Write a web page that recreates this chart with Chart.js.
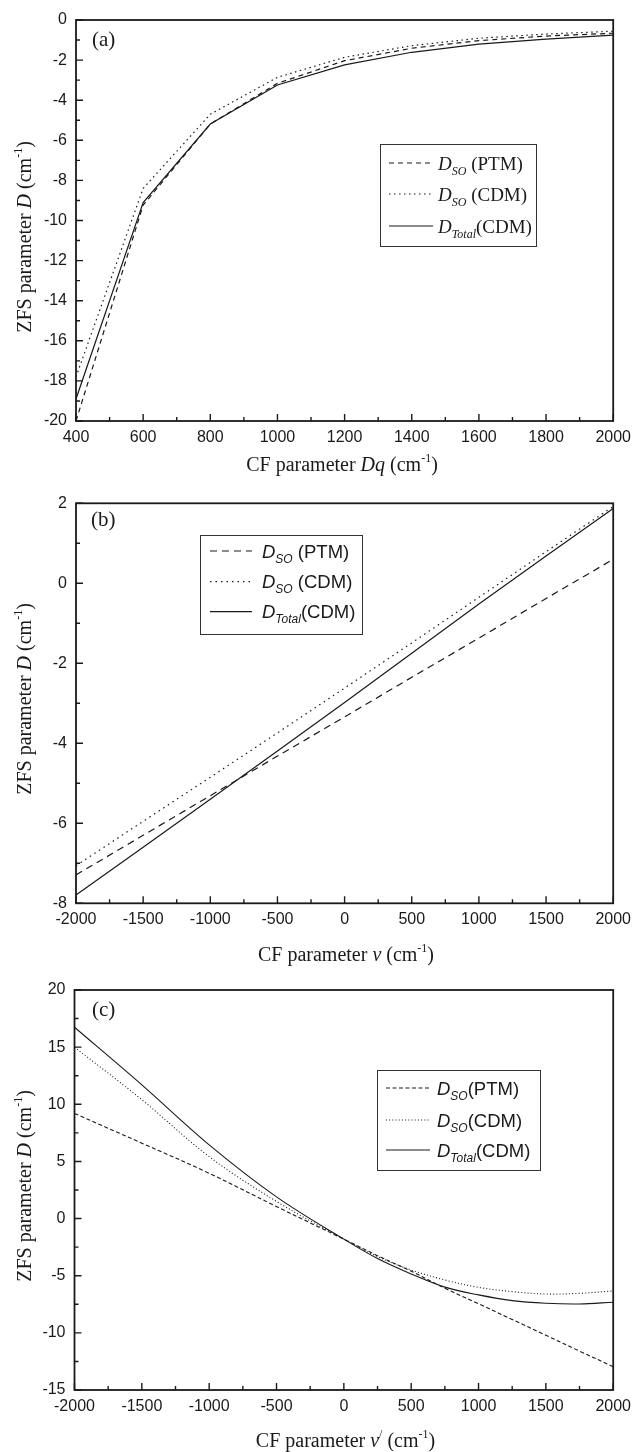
<!DOCTYPE html>
<html>
<head>
<meta charset="utf-8">
<script src="https://cdn.jsdelivr.net/npm/chart.js@4.4.0/dist/chart.umd.min.js"></script>
<style>
  html, body { margin: 0; padding: 0; background: #fff; }
  body { width: 638px; height: 1452px; position: relative; overflow: hidden; }
  .panel { position: absolute; left: 0; width: 638px; }
</style>
</head>
<body>
<div class="panel" style="top:0;height:480px"><canvas id="chartA" width="638" height="480"></canvas></div>
<div class="panel" style="top:480px;height:490px"><canvas id="chartB" width="638" height="490"></canvas></div>
<div class="panel" style="top:970px;height:482px"><canvas id="chartC" width="638" height="482"></canvas></div>
<script>
// (a) ZFS parameter D vs CF parameter Dq
const dqValues = [400, 600, 800, 1000, 1200, 1400, 1600, 1800, 2000];
const dsoPtmA = [-20.0, -9.23, -5.19, -3.16, -2.03, -1.41, -1.03, -0.80, -0.66];
const dsoCdmA = [-17.8, -8.40, -4.70, -2.86, -1.86, -1.28, -0.91, -0.70, -0.56];
const dTotalA = [-18.9, -9.11, -5.19, -3.24, -2.24, -1.61, -1.20, -0.95, -0.75];
const xTicksA = [400, 600, 800, 1000, 1200, 1400, 1600, 1800, 2000];
const yTicksA = [-20, -18, -16, -14, -12, -10, -8, -6, -4, -2, 0];

// (b) ZFS parameter D vs CF parameter v
const vValues = [-2000, -1500, -1000, -500, 0, 500, 1000, 1500, 2000];
const dsoPtmB = [-7.29, -6.30, -5.31, -4.32, -3.34, -2.35, -1.37, -0.38, 0.60];
const dsoCdmB = [-7.06, -5.95, -4.85, -3.74, -2.62, -1.49, -0.35, 0.79, 1.92];
const dTotalB = [-7.79, -6.60, -5.40, -4.19, -2.98, -1.75, -0.52, 0.68, 1.87];
const xTicksB = [-2000, -1500, -1000, -500, 0, 500, 1000, 1500, 2000];
const yTicksB = [-8, -6, -4, -2, 0, 2];

// (c) ZFS parameter D vs CF parameter v'
const vpValues = [-2000, -1500, -1000, -500, 0, 250, 500, 750, 1000, 1250, 1500, 1750, 2000];
const dsoPtmC = [9.2, 6.6, 3.96, 1.05, -1.8, -3.25, -4.6, -6.1, -7.45, -8.83, -10.21, -11.6, -12.96];
const dsoCdmC = [15.0, 10.4, 5.42, 1.5, -1.8, -3.33, -4.5, -5.37, -6.02, -6.39, -6.6, -6.54, -6.33];
const dTotalC = [16.74, 11.7, 6.45, 1.9, -1.8, -3.5, -4.85, -6.0, -6.68, -7.18, -7.41, -7.47, -7.32];
const xTicksC = [-2000, -1500, -1000, -500, 0, 500, 1000, 1500, 2000];
const yTicksC = [-15, -10, -5, 0, 5, 10, 15, 20];

const SERIF = "'Liberation Serif', 'Times New Roman', serif";
const SANS = "'Liberation Sans', Arial, sans-serif";
const INK = '#1a1a1a';

// mixed-style text: parts = [{t, font, dy}]
function richText(ctx, parts, x, y, align) {
  let w = 0;
  parts.forEach(p => { ctx.font = p.font; p.w = ctx.measureText(p.t).width; w += p.w; });
  let cx = align === 'center' ? x - w / 2 : x;
  parts.forEach(p => { ctx.font = p.font; ctx.fillText(p.t, cx, y + (p.dy || 0)); cx += p.w; });
}

function axisTitle(name, italicPart, prime) {
  const f = '20px ' + SERIF, fi = 'italic 20px ' + SERIF, fs = '12px ' + SERIF;
  const parts = [{ t: name, font: f }, { t: italicPart, font: fi }];
  if (prime) parts.push({ t: '/', font: fs, dy: -9 });
  parts.push({ t: ' (cm', font: f }, { t: '-1', font: fs, dy: -9 }, { t: ')', font: f });
  return parts;
}

function legendRow(family, size, sub, tail) {
  return [
    { t: 'D', font: 'italic ' + size + 'px ' + family },
    { t: sub, font: 'italic ' + Math.round(size * 0.64) + 'px ' + family, dy: 5 },
    { t: tail, font: size + 'px ' + family }
  ];
}

const panels = {
  chartA: {
    xs: dqValues, ptm: dsoPtmA, cdm: dsoCdmA, tot: dTotalA,
    xTicks: xTicksA, yTicks: yTicksA,
    area: { top: 20, right: 22, yw: 76, xh: 59 },
    dash: [5, 4], dot: [1.5, 3.5], lw: 1.2, tension: 0,
    label: { t: '(a)', x: 92, y: 46 },
    xTitle: { parts: axisTitle('CF parameter ', 'Dq'), x: 342, y: 471 },
    yTitle: { parts: axisTitle('ZFS parameter ', 'D'), x: 31, y: 237 },
    legend: { box: [380, 144, 156, 102], x0: 389, x1: 433, tx: 438, rows: [163, 194, 226],
      text: [legendRow(SERIF, 19, 'SO', ' (PTM)'), legendRow(SERIF, 19, 'SO', ' (CDM)'), legendRow(SERIF, 19, 'Total', '(CDM)')] }
  },
  chartB: {
    xs: vValues, ptm: dsoPtmB, cdm: dsoCdmB, tot: dTotalB,
    xTicks: xTicksB, yTicks: yTicksB,
    area: { top: 23.3, right: 21.5, yw: 76, xh: 66.7 },
    dash: [7, 5], dot: [1.5, 4], lw: 1.2, tension: 0,
    label: { t: '(b)', x: 91, y: 46 },
    xTitle: { parts: axisTitle('CF parameter ', 'v'), x: 346, y: 481 },
    yTitle: { parts: axisTitle('ZFS parameter ', 'D'), x: 31, y: 219 },
    legend: { box: [200, 55, 162, 99], x0: 210, x1: 252, tx: 262, rows: [71, 101.7, 131.7],
      text: [legendRow(SANS, 18.5, 'SO', ' (PTM)'), legendRow(SANS, 18.5, 'SO', ' (CDM)'), legendRow(SANS, 18.5, 'Total', '(CDM)')] }
  },
  chartC: {
    xs: vpValues, ptm: dsoPtmC, cdm: dsoCdmC, tot: dTotalC,
    xTicks: xTicksC, yTicks: yTicksC,
    area: { top: 20, right: 21.7, yw: 74.5, xh: 62 },
    dash: [4, 2.5], dot: [1, 2.2], lw: 1.1, tension: 0.35,
    label: { t: '(c)', x: 92, y: 46 },
    xTitle: { parts: axisTitle('CF parameter ', 'v', true), x: 345.5, y: 476.5 },
    yTitle: { parts: axisTitle('ZFS parameter ', 'D'), x: 31, y: 216 },
    legend: { box: [377, 100, 163, 100], x0: 386, x1: 430, tx: 437, rows: [118, 150, 180],
      text: [legendRow(SANS, 18.5, 'SO', '(PTM)'), legendRow(SANS, 18.5, 'SO', '(CDM)'), legendRow(SANS, 18.5, 'Total', '(CDM)')] }
  }
};

const framePlugin = {
  id: 'frame',
  afterDraw(chart) {
    const cfg = panels[chart.canvas.id];
    const ctx = chart.ctx, a = chart.chartArea;
    const sx = chart.scales.x, sy = chart.scales.y;
    ctx.save();
    ctx.strokeStyle = INK;
    ctx.fillStyle = INK;
    ctx.lineWidth = 1.8;
    ctx.strokeRect(a.left, a.top, a.right - a.left, a.bottom - a.top);

    // inward ticks, minor ones halfway between labels
    ctx.lineWidth = 1.4;
    ctx.beginPath();
    cfg.xTicks.forEach((v, i, arr) => {
      const px = sx.getPixelForValue(v);
      ctx.moveTo(px, a.bottom); ctx.lineTo(px, a.bottom - 7);
      if (i < arr.length - 1) {
        const m = sx.getPixelForValue((v + arr[i + 1]) / 2);
        ctx.moveTo(m, a.bottom); ctx.lineTo(m, a.bottom - 4);
      }
    });
    cfg.yTicks.forEach((v, i, arr) => {
      const py = sy.getPixelForValue(v);
      ctx.moveTo(a.left, py); ctx.lineTo(a.left + 7, py);
      if (i < arr.length - 1) {
        const m = sy.getPixelForValue((v + arr[i + 1]) / 2);
        ctx.moveTo(a.left, m); ctx.lineTo(a.left + 4, m);
      }
    });
    ctx.stroke();

    ctx.textBaseline = 'alphabetic';
    ctx.font = '21px ' + SERIF;
    ctx.fillText(cfg.label.t, cfg.label.x, cfg.label.y);

    richText(ctx, cfg.xTitle.parts, cfg.xTitle.x, cfg.xTitle.y, 'center');
    ctx.save();
    ctx.translate(cfg.yTitle.x, cfg.yTitle.y);
    ctx.rotate(-Math.PI / 2);
    richText(ctx, cfg.yTitle.parts, 0, 0, 'center');
    ctx.restore();

    // legend
    const lg = cfg.legend;
    ctx.lineWidth = 1;
    ctx.strokeStyle = '#333';
    ctx.fillStyle = '#fff';
    ctx.fillRect(lg.box[0], lg.box[1], lg.box[2], lg.box[3]);
    ctx.strokeRect(lg.box[0] + 0.5, lg.box[1] + 0.5, lg.box[2], lg.box[3]);
    ctx.fillStyle = INK;
    chart.data.datasets.forEach((ds, i) => {
      const y = lg.rows[i];
      ctx.strokeStyle = INK;
      ctx.lineWidth = ds.borderWidth;
      ctx.setLineDash(ds.borderDash || []);
      ctx.beginPath();
      ctx.moveTo(lg.x0, y); ctx.lineTo(lg.x1, y);
      ctx.stroke();
      ctx.setLineDash([]);
      richText(ctx, lg.text[i], lg.tx, y + 6.5, 'left');
    });
    ctx.restore();
  }
};

function seriesFrom(xs, ys) {
  return xs.map((x, i) => ({ x, y: ys[i] }));
}

function makeChart(id) {
  const p = panels[id];
  const line = (data, dash) => ({
    data, borderColor: INK, borderWidth: p.lw, borderDash: dash,
    pointRadius: 0, tension: p.tension, fill: false
  });
  return new Chart(document.getElementById(id), {
    type: 'line',
    data: {
      datasets: [
        line(seriesFrom(p.xs, p.ptm), p.dash),
        line(seriesFrom(p.xs, p.cdm), p.dot),
        line(seriesFrom(p.xs, p.tot), [])
      ]
    },
    options: {
      responsive: false,
      animation: false,
      devicePixelRatio: 1,
      layout: { padding: { left: 0, top: p.area.top, right: p.area.right, bottom: 0 } },
      plugins: { legend: { display: false }, tooltip: { enabled: false } },
      scales: {
        x: {
          type: 'linear',
          min: p.xTicks[0],
          max: p.xTicks[p.xTicks.length - 1],
          afterBuildTicks: s => { s.ticks = p.xTicks.map(v => ({ value: v })); },
          afterFit: s => { s.height = p.area.xh; },
          ticks: { font: { family: SANS, size: 16 }, color: INK, padding: 7, maxRotation: 0, autoSkip: false, callback: v => String(v) },
          grid: { display: false, drawTicks: false },
          border: { display: false }
        },
        y: {
          type: 'linear',
          min: p.yTicks[0],
          max: p.yTicks[p.yTicks.length - 1],
          afterBuildTicks: s => { s.ticks = p.yTicks.map(v => ({ value: v })); },
          afterFit: s => { s.width = p.area.yw; },
          ticks: { font: { family: SANS, size: 16 }, color: INK, padding: 9, autoSkip: false, callback: v => String(v) },
          grid: { display: false, drawTicks: false },
          border: { display: false }
        }
      }
    },
    plugins: [framePlugin]
  });
}

makeChart('chartA');
makeChart('chartB');
makeChart('chartC');
</script>
</body>
</html>
